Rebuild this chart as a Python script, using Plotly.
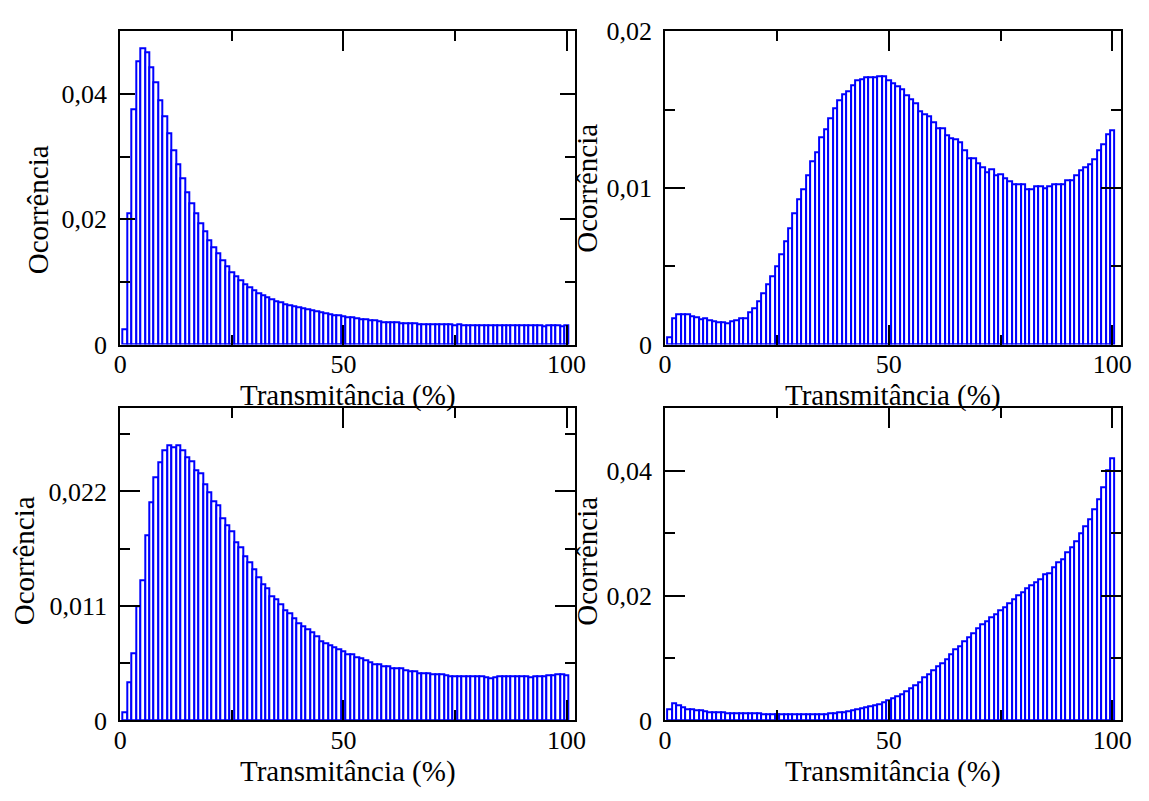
import plotly.graph_objects as go

# Bin centres of the transmittance histograms (1 % wide bins)
transmitancia = list(range(1, 101))

# Normalised occurrence per bin, one list per panel
ocorrencia_a = [
    0.0025, 0.0210, 0.0376, 0.0452, 0.0473, 0.0466, 0.0443, 0.0419, 0.0390, 0.0364,
    0.0337, 0.0310, 0.0288, 0.0265, 0.0243, 0.0225, 0.0209, 0.0194, 0.0180, 0.0167,
    0.0155, 0.0145, 0.0135, 0.0125, 0.0116, 0.0109, 0.0102, 0.0096, 0.0091, 0.0086,
    0.0082, 0.0078, 0.0075, 0.0072, 0.0069, 0.0067, 0.0065, 0.0063, 0.0061, 0.0059,
    0.0058, 0.0056, 0.0054, 0.0053, 0.0051, 0.0050, 0.0048, 0.0047, 0.0046, 0.0045,
    0.0044, 0.0043, 0.0042, 0.0041, 0.0040, 0.0039, 0.0038, 0.0037, 0.0036, 0.0035,
    0.0035, 0.0035, 0.0034, 0.0034, 0.0034, 0.0034, 0.0033, 0.0033, 0.0033, 0.0033,
    0.0032, 0.0032, 0.0032, 0.0032, 0.0031, 0.0032, 0.0031, 0.0031, 0.0031, 0.0031,
    0.0031, 0.0030, 0.0031, 0.0030, 0.0030, 0.0030, 0.0030, 0.0030, 0.0030, 0.0030,
    0.0030, 0.0030, 0.0030, 0.0030, 0.0029, 0.0030, 0.0030, 0.0030, 0.0029, 0.0030,
]

ocorrencia_b = [
    0.00045, 0.00168, 0.00193, 0.00193, 0.00193, 0.00180, 0.00176, 0.00164, 0.00166, 0.00152,
    0.00148, 0.00144, 0.00141, 0.00137, 0.00148, 0.00156, 0.00168, 0.00168, 0.00205, 0.00234,
    0.00275, 0.00328, 0.00385, 0.00437, 0.00502, 0.00578, 0.00656, 0.00740, 0.00838, 0.00927,
    0.00994, 0.01080, 0.01173, 0.01226, 0.01326, 0.01374, 0.01443, 0.01509, 0.01558, 0.01599,
    0.01620, 0.01658, 0.01689, 0.01693, 0.01708, 0.01708, 0.01708, 0.01710, 0.01712, 0.01685,
    0.01665, 0.01648, 0.01628, 0.01593, 0.01566, 0.01538, 0.01492, 0.01470, 0.01460, 0.01421,
    0.01382, 0.01378, 0.01333, 0.01320, 0.01310, 0.01290, 0.01240, 0.01190, 0.01190, 0.01160,
    0.01130, 0.01100, 0.01120, 0.01080, 0.01090, 0.01060, 0.01040, 0.01020, 0.01020, 0.01020,
    0.00990, 0.00990, 0.01010, 0.01010, 0.01000, 0.01010, 0.01020, 0.01020, 0.01020, 0.01050,
    0.01050, 0.01080, 0.01110, 0.01130, 0.01150, 0.01180, 0.01240, 0.01280, 0.01340, 0.01370,
]

ocorrencia_c = [
    0.00080, 0.00370, 0.00650, 0.01100, 0.01350, 0.01778, 0.02093, 0.02340, 0.02478, 0.02594,
    0.02646, 0.02630, 0.02649, 0.02594, 0.02533, 0.02493, 0.02405, 0.02380, 0.02270, 0.02197,
    0.02111, 0.02065, 0.01940, 0.01876, 0.01815, 0.01708, 0.01662, 0.01580, 0.01524, 0.01451,
    0.01378, 0.01311, 0.01271, 0.01198, 0.01161, 0.01115, 0.01063, 0.01033, 0.00978, 0.00938,
    0.00901, 0.00877, 0.00846, 0.00810, 0.00764, 0.00746, 0.00724, 0.00703, 0.00681, 0.00663,
    0.00636, 0.00636, 0.00611, 0.00599, 0.00575, 0.00562, 0.00544, 0.00544, 0.00526, 0.00520,
    0.00507, 0.00498, 0.00498, 0.00483, 0.00477, 0.00471, 0.00458, 0.00452, 0.00452, 0.00443,
    0.00443, 0.00440, 0.00434, 0.00428, 0.00428, 0.00428, 0.00428, 0.00422, 0.00422, 0.00425,
    0.00422, 0.00416, 0.00406, 0.00419, 0.00428, 0.00428, 0.00422, 0.00422, 0.00422, 0.00422,
    0.00428, 0.00416, 0.00425, 0.00428, 0.00428, 0.00434, 0.00434, 0.00440, 0.00446, 0.00437,
]

ocorrencia_d = [
    0.00180, 0.00272, 0.00241, 0.00215, 0.00185, 0.00174, 0.00164, 0.00164, 0.00154, 0.00139,
    0.00139, 0.00133, 0.00128, 0.00123, 0.00118, 0.00113, 0.00113, 0.00113, 0.00113, 0.00113,
    0.00113, 0.00108, 0.00108, 0.00108, 0.00108, 0.00108, 0.00103, 0.00103, 0.00103, 0.00103,
    0.00103, 0.00108, 0.00108, 0.00108, 0.00108, 0.00108, 0.00113, 0.00123, 0.00128, 0.00139,
    0.00154, 0.00164, 0.00174, 0.00195, 0.00210, 0.00221, 0.00241, 0.00267, 0.00287, 0.00318,
    0.00354, 0.00395, 0.00420, 0.00462, 0.00513, 0.00564, 0.00616, 0.00687, 0.00739, 0.00805,
    0.00872, 0.00923, 0.00985, 0.01054, 0.01134, 0.01190, 0.01272, 0.01333, 0.01400, 0.01472,
    0.01549, 0.01590, 0.01656, 0.01703, 0.01769, 0.01820, 0.01882, 0.01949, 0.02000, 0.02051,
    0.02118, 0.02164, 0.02215, 0.02256, 0.02349, 0.02359, 0.02462, 0.02538, 0.02590, 0.02692,
    0.02769, 0.02872, 0.03000, 0.03113, 0.03220, 0.03385, 0.03549, 0.03743, 0.04000, 0.04205,
]

# y-axis tick positions / labels per panel
yticks_a = [0, 0.02, 0.04]
ylabels_a = ["0", "0,02", "0,04"]
yminor_a = [0.01, 0.03]

yticks_b = [0, 0.01, 0.02]
ylabels_b = ["0", "0,01", "0,02"]
yminor_b = [0.005, 0.015]

yticks_c = [0, 0.011, 0.022]
ylabels_c = ["0", "0,011", "0,022"]
yminor_c = [0.0055, 0.0165, 0.0275]

yticks_d = [0, 0.02, 0.04]
ylabels_d = ["0", "0,02", "0,04"]
yminor_d = [0.01, 0.03]

xticks = [0, 50, 100]
xlabels = ["0", "50", "100"]
xminor = [25, 75]

x_title = "Transmitância (%)"
y_title = "Ocorrência"

W, H = 1149, 801
FONT = "Liberation Serif"


def px_x(p):
    return p / W


def px_y(p):
    return 1 - p / H


# pixel boxes of the four plot areas: (left, right, top, bottom)
boxes = [(115, 577, 18, 343), (668, 1131, 18, 343),
         (115, 577, 409, 733), (668, 1131, 409, 733)]

# (values, y range, major ticks, labels, minor ticks, major tick length,
#  y-title centre x offset from axis, y-title centre y in px)
panels = [
    (ocorrencia_a, [0, 0.05], yticks_a, ylabels_a, yminor_a, 15, 84, 203),
    (ocorrencia_b, [0, 0.02], yticks_b, ylabels_b, yminor_b, 20, 79, 181),
    (ocorrencia_c, [0, 0.03], yticks_c, ylabels_c, yminor_c, 20, 97, 567),
    (ocorrencia_d, [0, 0.05], yticks_d, ylabels_d, yminor_d, 20, 79, 568),
]

fig = go.Figure()
layout = dict(
    width=W, height=H,
    margin=dict(l=0, r=0, t=0, b=0),
    paper_bgcolor="white", plot_bgcolor="white",
    showlegend=False, bargap=0,
    font=dict(family=FONT, color="black", size=26),
)
annotations = []

for k, ((vals, yr, ytv, ytt, ymin, ymaj, yoff, ymid), box) in enumerate(zip(panels, boxes)):
    n = "" if k == 0 else str(k + 1)
    l, r, t, b = box
    fig.add_trace(go.Bar(
        x=transmitancia, y=vals, width=1,
        marker=dict(color="white", line=dict(color="#0000ff", width=2)),
        xaxis="x" + n, yaxis="y" + n, hoverinfo="skip",
    ))
    common = dict(
        showgrid=False, zeroline=False, showline=True, linecolor="black",
        linewidth=2, mirror="ticks", ticks="inside", tickcolor="black",
        tickwidth=2, tickfont=dict(family=FONT, size=26, color="black"),
    )
    layout["xaxis" + n] = dict(
        common, domain=[px_x(l), px_x(r)], range=[0, 102],
        anchor="y" + n, tickmode="array", tickvals=xticks, ticktext=xlabels,
        ticklen=20, ticklabelstandoff=-5,
        minor=dict(tickmode="array", tickvals=xminor, ticks="inside",
                   ticklen=10, tickwidth=2, tickcolor="black"),
    )
    layout["yaxis" + n] = dict(
        common, domain=[px_y(b), px_y(t)], range=yr,
        anchor="x" + n, tickmode="array", tickvals=ytv, ticktext=ytt,
        ticklen=ymaj, ticklabelstandoff=6,
        minor=dict(tickmode="array", tickvals=ymin, ticks="inside",
                   ticklen=10, tickwidth=2, tickcolor="black"),
    )
    annotations.append(dict(
        text=x_title, xref="paper", yref="paper",
        x=px_x((l + r) / 2), y=px_y(b + 53), xanchor="center", yanchor="middle",
        showarrow=False, font=dict(family=FONT, size=29, color="black"),
    ))
    annotations.append(dict(
        text=y_title, xref="paper", yref="paper", textangle=-90,
        x=px_x(l - yoff), y=px_y(ymid), xanchor="center", yanchor="middle",
        showarrow=False, font=dict(family=FONT, size=29, color="black"),
    ))

layout["annotations"] = annotations
fig.update_layout(**layout)
fig.write_html("out.html")
